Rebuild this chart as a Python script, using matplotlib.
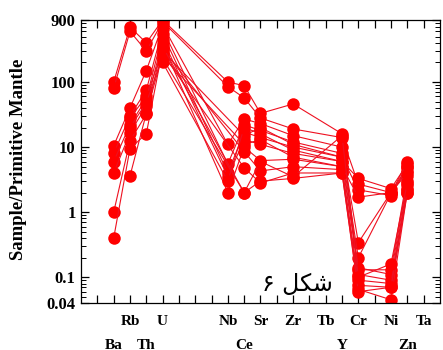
import numpy as np
import matplotlib
import matplotlib.pyplot as plt
from matplotlib.ticker import LogLocator, NullFormatter
matplotlib.use('Agg')

# slots along the x axis (1..21); '' = unlabeled tick
axis_slots = ['', 'Ba', 'Rb', 'Th', 'U', '', '', '', 'Nb', 'Ce', 'Sr', '',
              'Zr', '', 'Tb', 'Y', 'Cr', '', 'Ni', 'Zn', 'Ta']
upper_row = ['Rb', 'U', 'Nb', 'Sr', 'Zr', 'Tb', 'Cr', 'Ni', 'Ta']
lower_row = ['Ba', 'Th', 'Ce', 'Y', 'Zn']

elements = ['Ba', 'Rb', 'Th', 'U', 'Nb', 'Ce', 'Sr', 'Zr', 'Y', 'Cr', 'Ni', 'Zn']
nan = np.nan
samples = [
    [100, 700, 400, 900, 100, 88, 33, 46, 16, 0.11, 0.09, 2.6],
    [80, 600, 300, 850, 85, 57, 28, 19, 14, 2.7, 2.0, 5.0],
    [10.5, 40, 150, 750, 11, 27, 23, 15, 10, 0.34, 2.0, 4.3],
    [8, 30, 75, 650, 5.5, 22, 18, 12, 8, 0.2, nan, 6.0],
    [6, 22, 55, 550, 4, 17, 14, 10, 7, 0.14, 0.11, 3.0],
    [4, 16.5, 43, 450, 3.5, 13, 11, 8, 6, 0.13, 0.13, 3.6],
    [1, 12.5, 32, 380, 2, 10, 6.2, 6.5, 5, 0.09, 0.08, 2.3],
    [0.4, 9.5, 16, 320, nan, 8.5, 4.3, 5, 4.5, 0.075, 0.07, 2.0],
    [nan, 3.6, 33, 270, nan, 4.8, 2.8, 4, 4, 0.065, 0.045, 2.0],
    [nan, nan, nan, 230, nan, 2, 3.0, 3.3, 4, 0.06, 0.07, 2.2],
    [nan, 28, 60, 300, nan, 15, 20, 11, 7, 2.2, 1.8, 5.0],
    [nan, 20, 48, 250, nan, 11, 13, 7, 5, 1.7, 2.0, 4.0],
    [nan, nan, nan, 200, 3.0, 20, 16, 9, 6, 3.3, 2.3, 5.5],
    [nan, nan, nan, 350, nan, 2.0, 6.0, 3.5, 15, 0.1, 0.16, 2.8],
]

ylabel = 'Sample/Primitive Mantle'
caption = 'شکل ۶'

# positional forms: isolated, final, initial, medial
forms = {'ش': ('\ufeb5', '\ufeb6', '\ufeb7', '\ufeb8'),
         'ک': ('\ufb8e', '\ufb8f', '\ufb90', '\ufb91'),
         'ل': ('\ufedd', '\ufede', '\ufedf', '\ufee0')}


def shape_rtl(s):
    out = []
    for i, ch in enumerate(s):
        if ch not in forms:
            out.append(ch)
            continue
        prev = i > 0 and s[i - 1] in forms
        nxt = i < len(s) - 1 and s[i + 1] in forms
        if prev and nxt:
            out.append(forms[ch][3])
        elif prev:
            out.append(forms[ch][1])
        elif nxt:
            out.append(forms[ch][2])
        else:
            out.append(forms[ch][0])
    return ''.join(out[::-1])


serif = {'family': 'Liberation Serif', 'weight': 'bold', 'size': 11}
serif_y = dict(serif, size=12)

fig = plt.figure(figsize=(4.43, 3.5), dpi=100)
ax = fig.add_axes([0.183, 0.134, 0.81, 0.809])

xpos = np.array([axis_slots.index(e) + 1 for e in elements])
for s in samples:
    v = np.array(s, dtype=float)
    ok = np.isfinite(v)
    ax.plot(xpos[ok], v[ok], color='#ee1020', lw=0.8, marker='o',
            ms=9, mfc='red', mec='red', mew=0)

ax.set_yscale('log')
ax.set_ylim(0.04, 900)
ax.set_xlim(0, 22)
ax.set_yticks([0.04, 0.1, 1, 10, 100, 900])
ax.set_yticklabels(['0.04', '0.1', '1', '10', '100', '900'], fontdict=serif_y)
ax.yaxis.set_minor_locator(LogLocator(base=10, subs=np.arange(2, 10)))
ax.yaxis.set_minor_formatter(NullFormatter())
ax.set_xticks(np.arange(1, 22))
ax.set_xticklabels([])
ax.tick_params(axis='both', which='major', direction='in', top=True,
               right=True, length=6, width=0.9, pad=4)
ax.tick_params(axis='y', which='minor', direction='in', right=True,
               length=3.5, width=0.7)
for sp in ax.spines.values():
    sp.set_linewidth(0.9)

tr = ax.get_xaxis_transform()
for name in upper_row:
    ax.text(axis_slots.index(name) + 1, -0.065, name, transform=tr,
            ha='center', va='center', fontdict=serif)
for name in lower_row:
    ax.text(axis_slots.index(name) + 1, -0.148, name, transform=tr,
            ha='center', va='center', fontdict=serif)

fig.text(0.042, 0.545, ylabel, rotation=90, ha='center', va='center',
         fontdict=dict(serif, size=13.5))
ax.text(0.602, 0.067, shape_rtl(caption), transform=ax.transAxes,
        ha='center', va='center', fontsize=17,
        family=['DejaVu Sans', 'Noto Sans'])

fig.savefig('out.png', dpi=100)
